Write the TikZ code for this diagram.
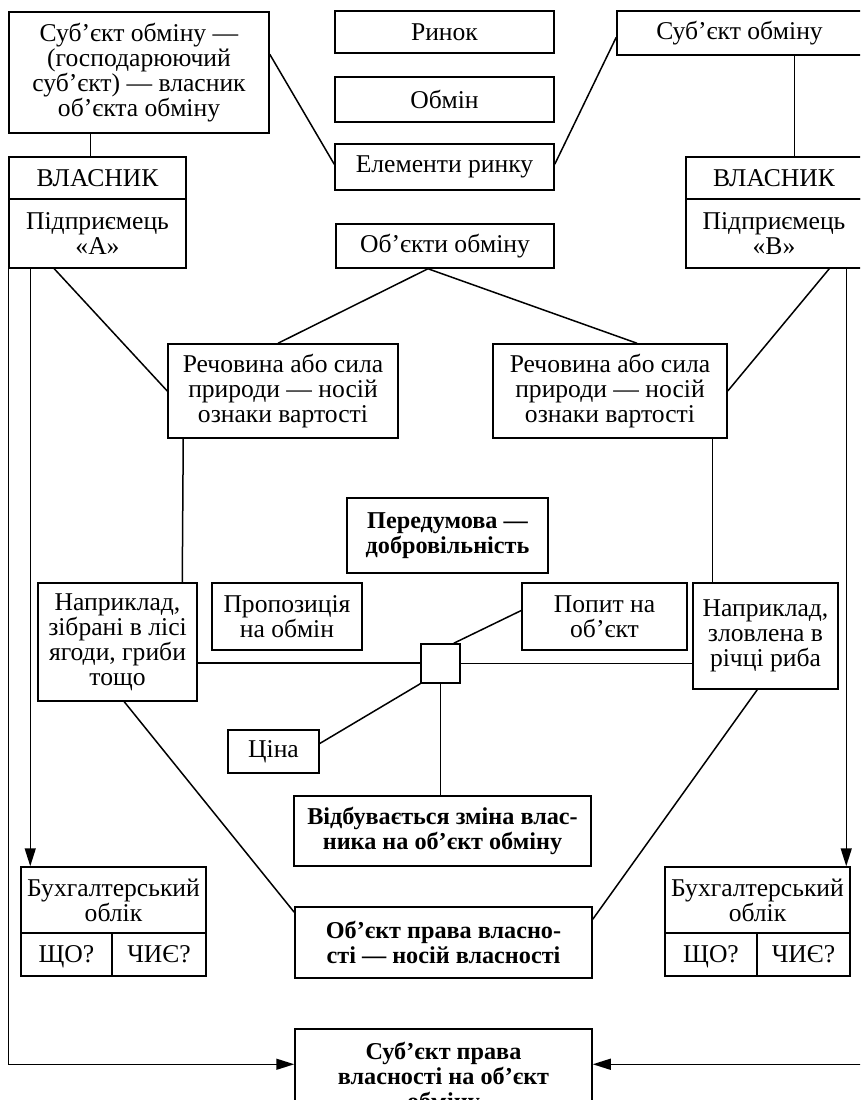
\documentclass[tikz,border=0pt]{standalone}
\usepackage{fontspec}
\setmainfont{Liberation Serif}
\usetikzlibrary{arrows.meta}
\begin{document}
\begin{tikzpicture}[x=1pt,y=1pt,
  box/.style={draw, line width=1.5pt, inner sep=0pt, align=center, font=\fontsize{25.6}{25}\selectfont},
  bbox/.style={box, font=\bfseries\fontsize{24.2}{25}\selectfont},
  cell/.style={box, text height=17pt, text depth=1pt},
  ln/.style={line width=1.5pt},
  arr/.style={line width=1.5pt, -{Triangle[length=18pt,width=11pt]}}]
\useasboundingbox (0,0) rectangle (860,-1100);
\clip (0,0) rectangle (860,-1100);
% top row
\node[box, minimum width=260, minimum height=121] (s1) at (139,-72.5) {Суб’єкт обміну —\\(господарюючий\\суб’єкт) — власник\\об’єкта обміну};
\node[box, minimum width=177, minimum height=42] (vAtop) at (97.5,-178) {ВЛАСНИК};
\node[box, minimum width=177, minimum height=69] (vAbot) at (97.5,-233.5) {Підприємець\\«А»};
\node[box, minimum width=219, minimum height=42] (rynok) at (444.5,-32) {Ринок};
\node[box, minimum width=219, minimum height=45] (obmin) at (444.5,-99.5) {Обмін};
\node[box, minimum width=219, minimum height=46] (elem) at (444.5,-167) {Елементи ринку};
\node[box, minimum width=218, minimum height=44] (obj) at (445,-246) {Об’єкти обміну};
\node[box, minimum width=245, minimum height=44] (s2) at (739.5,-33) {Суб’єкт обміну};
\node[box, minimum width=176, minimum height=42] (vBtop) at (774,-178) {ВЛАСНИК};
\node[box, minimum width=176, minimum height=69] (vBbot) at (774,-233.5) {Підприємець\\«В»};
% middle
\node[box, minimum width=230, minimum height=94] (rechL) at (283,-391) {Речовина або сила\\природи — носій\\ознаки вартості};
\node[box, minimum width=234, minimum height=94] (rechR) at (610,-391) {Речовина або сила\\природи — носій\\ознаки вартості};
\node[bbox, minimum width=201, minimum height=75] (pered) at (447.5,-535.5) {Передумова —\\добровільність};
\node[box, minimum width=159, minimum height=118] (naprL) at (117.5,-642) {Наприклад,\\зібрані в лісі\\ягоди, гриби\\тощо};
\node[box, minimum width=150, minimum height=67] (propoz) at (287,-616.5) {Пропозиція\\на обмін};
\node[box, minimum width=39, minimum height=39] (sq) at (440.5,-663.5) {};
\node[box, minimum width=165, minimum height=67] (popyt) at (604.5,-616.5) {Попит на\\об’єкт};
\node[box, minimum width=145, minimum height=106] (naprR) at (765.5,-636) {Наприклад,\\зловлена в\\річці риба};
\node[box, minimum width=91, minimum height=43] (tsina) at (273.5,-751.5) {Ціна};
% bottom
\node[bbox, minimum width=297, minimum height=70] (vidb) at (442.5,-831) {Відбувається зміна влас-\\ника на об’єкт обміну};
\node[bbox, minimum width=297, minimum height=71] (objp) at (443.5,-942.5) {Об’єкт права власно-\\сті — носій власності};
\node[bbox, minimum width=297, minimum height=98] (subp) at (443.5,-1078) {Суб’єкт права\\власності на об’єкт\\обміну};
\node[box, minimum width=185, minimum height=66] (bLtop) at (113.5,-900) {Бухгалтерський\\облік};
\node[cell, minimum width=91, minimum height=43] (bLa) at (66.5,-954.5) {ЩО?};
\node[cell, minimum width=94, minimum height=43] (bLb) at (159,-954.5) {ЧИЄ?};
\node[box, minimum width=185, minimum height=66] (bRtop) at (757.5,-900) {Бухгалтерський\\облік};
\node[cell, minimum width=92, minimum height=43] (bRa) at (711,-954.5) {ЩО?};
\node[cell, minimum width=93, minimum height=43] (bRb) at (803.5,-954.5) {ЧИЄ?};
% connectors
\draw[ln] ([xshift=82]s1.south west) -- ([xshift=82]vAtop.north west);
\draw[ln] ([yshift=-43]s1.north east) -- ([yshift=-21]elem.north west);
\draw[ln] ([yshift=-27]s2.north west) -- ([yshift=-21]elem.north east);
\draw[ln] ([xshift=178]s2.south west) -- ([xshift=109]vBtop.north west);
\coordinate (apex) at ([xshift=-17]obj.south);
\draw[ln] ([xshift=-5]rechL.north) -- (apex) -- ([xshift=27]rechR.north);
\draw[ln] ([xshift=46]vAbot.south west) -- (rechL.west);
\draw[ln] ([xshift=144]vBbot.south west) -- (rechR.east);
\draw[ln] ([xshift=16]rechL.south west) -- ([xshift=145]naprL.north west);
\draw[ln] ([xshift=220]rechR.south west) -- ([xshift=20]naprR.north west);
\draw[ln] ([yshift=-21]naprL.east) -- ([yshift=-21]naprL.east -| sq.west);
\draw[ln] (sq.east) -- (sq.east -| naprR.west);
\draw[ln] ([yshift=6]popyt.west) -- ([xshift=-7]sq.north east);
\draw[ln] ([yshift=8]tsina.east) -- (sq.south west);
\draw[ln] (sq.south) -- (sq.south |- vidb.north);
\draw[ln] ([xshift=87]naprL.south west) -- ([yshift=-6]objp.north west);
\draw[ln] ([xshift=65]naprR.south west) -- ([yshift=-13]objp.north east);
\draw[arr] (vAbot.south west) |- ([yshift=-36]subp.north west);
\draw[arr] (vBbot.south east) |- ([yshift=-36]subp.north east);
\draw[arr] ([xshift=22]vAbot.south west) -- ([xshift=10]bLtop.north west);
\draw[arr] ([xshift=161]vBbot.south west) -- ([xshift=182]bRtop.north west);
\end{tikzpicture}
\end{document}
